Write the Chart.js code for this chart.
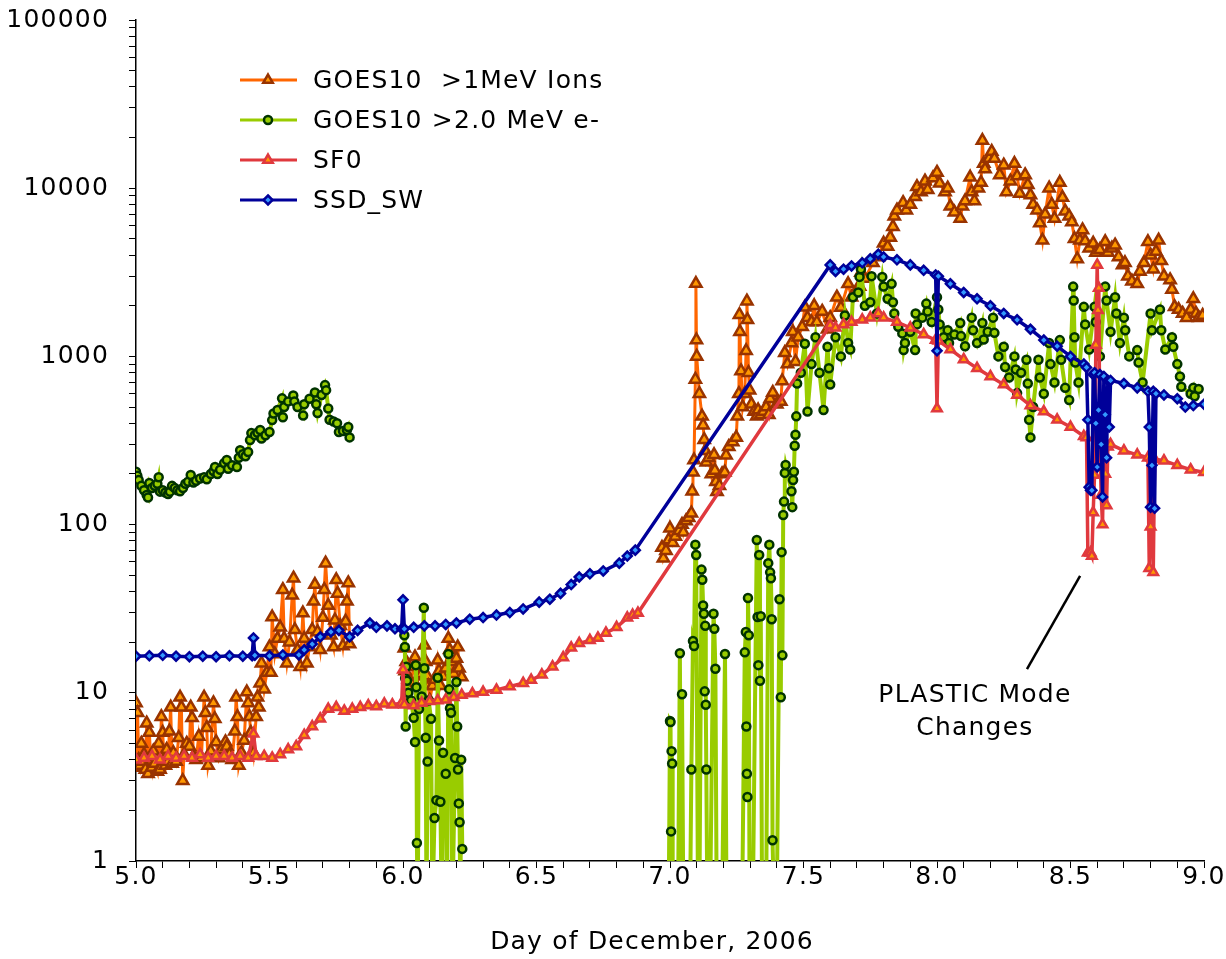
<!DOCTYPE html>
<html>
<head>
<meta charset="utf-8">
<script src="https://cdn.jsdelivr.net/npm/chart.js@4.4.1/dist/chart.umd.min.js"></script>
<style>
html,body{margin:0;padding:0;background:#fff;}
#wrap{width:1226px;height:959px;}
</style>
</head>
<body>
<div id="wrap"><canvas id="c" width="1226" height="959"></canvas></div>
<script>
// ---------- DATA (day of December 2006, value) ----------
const seriesNames = ['GOES10  >1MeV Ions', 'GOES10 >2.0 MeV e-', 'SF0', 'SSD_SW'];

const ionsA = [[5.000,8.7],[5.003,3.6],[5.006,7.6],[5.010,4.0],[5.015,3.7],[5.020,5.0],[5.025,3.9],[5.030,4.3],[5.035,3.5],[5.040,6.6],[5.045,3.3],[5.050,5.8],[5.055,4.1],[5.060,3.6],[5.065,4.5],[5.070,3.8],[5.080,3.4],[5.085,5.0],[5.090,3.5],[5.095,7.2],[5.100,5.8],[5.105,4.0],[5.110,3.7],[5.115,4.6],[5.120,3.9],[5.125,5.9],[5.130,8.2],[5.135,3.8],[5.140,4.4],[5.150,3.9],[5.160,5.4],[5.165,9.4],[5.170,8.2],[5.175,3.0],[5.180,4.3],[5.190,5.0],[5.200,4.8],[5.205,8.2],[5.210,7.1],[5.215,4.2],[5.225,4.0],[5.235,5.5],[5.245,4.1],[5.255,9.4],[5.260,7.6],[5.265,6.2],[5.270,3.7],[5.280,4.5],[5.290,8.7],[5.295,7.0],[5.300,5.1],[5.310,4.1],[5.320,4.6],[5.335,5.1],[5.340,4.8],[5.350,4.3],[5.360,4.0],[5.370,5.9],[5.375,9.4],[5.380,7.2],[5.385,3.7],[5.395,4.4],[5.405,5.2],[5.415,10.1],[5.420,8.7],[5.425,7.2],[5.430,5.8],[5.440,4.4],[5.450,7.2],[5.455,9.4],[5.460,8.2],[5.465,11.4],[5.470,15],[5.480,10.5],[5.490,13.2],[5.500,18.7],[5.505,13.2],[5.510,28.2],[5.520,17],[5.530,21],[5.540,24.5],[5.550,41],[5.555,21],[5.565,15],[5.575,20],[5.585,38],[5.590,48],[5.595,23.7],[5.605,18],[5.615,14.3],[5.625,29.8],[5.630,21],[5.640,15],[5.650,18.7],[5.660,23.7],[5.665,35],[5.670,44],[5.680,23],[5.690,18],[5.700,28],[5.705,41],[5.710,59],[5.720,33],[5.730,22],[5.740,18.7],[5.745,27],[5.750,47],[5.755,39],[5.765,25],[5.775,19],[5.785,26.6],[5.790,35],[5.795,45],[5.800,19.5]];
const ionsB = [[6.005,18.4],[6.008,13.5],[6.012,15.3],[6.020,12],[6.030,11.5],[6.040,14.3],[6.045,16.3],[6.050,11],[6.060,12.6],[6.070,13],[6.080,19.2],[6.085,15.3],[6.090,12.6],[6.095,11],[6.100,9.0],[6.110,11],[6.120,12],[6.130,15.6],[6.135,13.5],[6.140,11],[6.150,12.5],[6.160,14],[6.170,21],[6.175,18],[6.180,15.3],[6.190,13],[6.200,16],[6.205,18.7],[6.210,14],[6.220,12.4]];
const ionsC = [[6.970,73],[6.975,63],[6.985,70],[6.995,81],[7.000,95],[7.010,78],[7.020,85],[7.035,92],[7.045,100],[7.050,90],[7.060,105],[7.070,110],[7.080,117],[7.083,158],[7.086,205],[7.090,242],[7.095,730],[7.097,2710],[7.099,1250],[7.100,1000],[7.110,600],[7.120,440],[7.124,390],[7.128,320],[7.132,275],[7.136,235],[7.145,250],[7.155,200],[7.165,260],[7.168,210],[7.172,180],[7.176,157],[7.185,170],[7.195,200],[7.205,205],[7.210,258],[7.220,290],[7.235,310],[7.248,330],[7.252,440],[7.258,600],[7.260,1770],[7.262,1400],[7.266,820],[7.272,500],[7.280,600],[7.285,1080],[7.288,2130],[7.290,1650],[7.294,800],[7.298,630],[7.305,520],[7.315,470],[7.325,440],[7.330,480],[7.340,450],[7.350,470],[7.360,500],[7.370,450],[7.375,560],[7.385,610],[7.400,520],[7.415,540],[7.420,715],[7.430,1050],[7.440,900],[7.455,1200],[7.460,1400],[7.470,930],[7.480,1300],[7.495,1500],[7.505,1960],[7.515,1700],[7.530,1600],[7.540,2000],[7.550,1600],[7.570,1850],[7.590,1450],[7.600,1700],[7.625,2250],[7.640,1950],[7.667,2700],[7.680,2250],[7.700,2500],[7.710,2600],[7.715,3150],[7.730,2900],[7.760,3600],[7.780,3900],[7.800,4700],[7.815,4500],[7.825,5100],[7.835,5900],[7.840,6800],[7.850,7400],[7.873,8200],[7.885,7400],[7.900,8000],[7.918,8900],[7.925,10200],[7.940,9500],[7.955,11000],[7.965,9800],[7.985,11500],[8.000,12400],[8.010,10700],[8.030,9500],[8.040,10000],[8.050,7800],[8.065,7200],[8.087,6600],[8.095,7800],[8.105,8400],[8.124,11600],[8.130,9500],[8.140,8400],[8.155,10000],[8.165,10800],[8.170,19200],[8.175,14000],[8.180,13000],[8.195,15000],[8.205,16500],[8.215,15000],[8.235,12000],[8.250,13700],[8.260,9500],[8.275,11000],[8.290,14000],[8.300,11800],[8.310,9300],[8.330,12000],[8.340,10500],[8.350,9100],[8.360,8000],[8.375,7400],[8.385,6200],[8.395,4900],[8.405,7000],[8.420,10000],[8.430,8000],[8.440,6600],[8.460,10800],[8.470,8800],[8.480,7300],[8.495,6800],[8.505,6300],[8.515,5000],[8.525,3800],[8.535,4900],[8.545,5650],[8.555,4850],[8.570,4400],[8.585,4700],[8.595,4150],[8.610,4300],[8.630,4800],[8.640,4150],[8.655,4400],[8.667,4580],[8.680,3900],[8.695,3500],[8.704,3600],[8.715,3000],[8.730,2800],[8.750,2700],[8.760,3200],[8.775,3600],[8.790,4800],[8.800,4000],[8.810,3300],[8.820,4200],[8.830,4900],[8.840,3700],[8.850,3000],[8.873,2850],[8.880,2500],[8.890,1970],[8.905,1900],[8.920,1800],[8.935,1700],[8.950,1900],[8.960,2200],[8.970,1800],[8.980,1700],[8.995,1750]];

const elecA = [[5.000,206],[5.005,195],[5.010,184],[5.020,170],[5.030,160],[5.040,150],[5.045,145],[5.050,177],[5.060,165],[5.070,170],[5.080,175],[5.085,191],[5.090,157],[5.100,160],[5.110,155],[5.120,152],[5.127,157],[5.135,170],[5.145,165],[5.155,160],[5.165,158],[5.176,165],[5.185,175],[5.195,180],[5.205,197],[5.215,178],[5.225,182],[5.240,188],[5.255,191],[5.265,186],[5.280,200],[5.290,208],[5.296,220],[5.305,200],[5.315,212],[5.330,232],[5.340,242],[5.345,215],[5.360,225],[5.378,220],[5.385,250],[5.390,277],[5.400,262],[5.410,255],[5.420,270],[5.427,318],[5.432,350],[5.445,340],[5.455,352],[5.465,365],[5.470,325],[5.485,340],[5.500,355],[5.510,418],[5.515,458],[5.530,480],[5.547,563],[5.550,435],[5.555,500],[5.570,540],[5.589,585],[5.593,540],[5.605,500],[5.626,445],[5.630,520],[5.650,560],[5.670,610],[5.675,520],[5.680,460],[5.695,590],[5.708,675],[5.712,630],[5.720,490],[5.725,420],[5.740,410],[5.753,400],[5.760,355],[5.775,360],[5.790,365],[5.795,380],[5.800,330]];
const elecB = [[6.005,22],[6.007,18.7],[6.008,12.2],[6.010,6.3],[6.012,14.3],[6.015,11.8],[6.020,10],[6.030,9],[6.040,7.1],[6.045,5.1],[6.048,14.6],[6.050,10.8],[6.052,1.28],[6.055,0.5],[6.060,8],[6.070,9.5],[6.078,32],[6.080,14],[6.085,5.4],[6.088,0.5],[6.092,3.9],[6.096,9],[6.105,7],[6.110,0.5],[6.118,1.8],[6.125,2.3],[6.130,12.3],[6.135,5.2],[6.140,2.25],[6.145,0.5],[6.150,4.4],[6.160,3.3],[6.165,0.5],[6.170,17],[6.173,10.5],[6.176,8.1],[6.180,7.6],[6.185,0.5],[6.195,4.1],[6.200,11.6],[6.203,6.3],[6.206,3.5],[6.209,2.2],[6.212,1.7],[6.215,0.5],[6.218,4],[6.222,1.18]];
const elecC = [[6.995,0.5],[7.000,6.8],[7.002,6.7],[7.004,1.5],[7.006,4.5],[7.008,3.8],[7.010,0.5],[7.020,0.5],[7.030,0.5],[7.037,17.2],[7.042,0.5],[7.045,9.8],[7.050,0.5],[7.075,0.5],[7.080,3.5],[7.086,20.3],[7.090,19],[7.095,76],[7.098,66],[7.105,0.5],[7.110,0.5],[7.118,54],[7.121,47],[7.124,33],[7.127,29.5],[7.130,10.2],[7.132,25],[7.134,8.5],[7.136,3.5],[7.140,0.5],[7.150,0.5],[7.163,29.5],[7.166,24],[7.170,13.9],[7.175,0.5],[7.195,0.5],[7.206,17],[7.212,0.5],[7.270,0.5],[7.280,17.4],[7.284,23],[7.286,6.3],[7.288,3.3],[7.290,2.4],[7.292,36.6],[7.295,22],[7.298,0.5],[7.310,0.5],[7.325,81],[7.328,28.2],[7.331,14.6],[7.334,66],[7.337,11.8],[7.340,28.5],[7.345,0.5],[7.360,0.5],[7.368,59],[7.372,76],[7.375,52],[7.378,48],[7.381,27.4],[7.384,1.33],[7.390,0.5],[7.400,0.5],[7.410,36],[7.415,9.4],[7.418,68.6],[7.421,16.7],[7.424,114],[7.427,137],[7.430,203],[7.433,226],[7.455,158],[7.458,127],[7.461,184],[7.464,206],[7.467,294],[7.470,342],[7.473,440],[7.476,690],[7.490,800],[7.505,1190],[7.515,470],[7.530,900],[7.545,1300],[7.560,800],[7.575,480],[7.590,1140],[7.595,850],[7.600,680],[7.620,1300],[7.640,1000],[7.655,1750],[7.667,1200],[7.675,1100],[7.685,2250],[7.705,2400],[7.710,2970],[7.715,3300],[7.730,2000],[7.750,2100],[7.755,3000],[7.775,1800],[7.795,2970],[7.800,2600],[7.815,2200],[7.830,2700],[7.835,2100],[7.840,1800],[7.855,1500],[7.870,1370],[7.875,1090],[7.880,1200],[7.900,1400],[7.918,1090],[7.920,1800],[7.925,1550],[7.945,1700],[7.960,2060],[7.965,1850],[7.980,1600],[8.000,2250],[8.005,1900],[8.010,1550],[8.025,1300],[8.040,1430],[8.045,1200],[8.065,1350],[8.087,1580],[8.090,1320],[8.105,1150],[8.130,1700],[8.135,1430],[8.150,1200],[8.170,1580],[8.175,1260],[8.190,1400],[8.210,1700],[8.215,1380],[8.230,1000],[8.250,1140],[8.255,865],[8.270,750],[8.290,1000],[8.295,835],[8.300,605],[8.315,800],[8.335,955],[8.340,690],[8.345,420],[8.350,330],[8.360,500],[8.380,955],[8.385,750],[8.400,600],[8.420,1200],[8.425,900],[8.440,700],[8.460,1250],[8.465,955],[8.480,650],[8.495,550],[8.510,2600],[8.512,2150],[8.515,1300],[8.518,920],[8.530,700],[8.550,1970],[8.555,1550],[8.570,1100],[8.590,1970],[8.595,1600],[8.610,1000],[8.630,2600],[8.635,2150],[8.650,1400],[8.667,2250],[8.672,1800],[8.685,1200],[8.700,1700],[8.705,1430],[8.720,1000],[8.750,1090],[8.755,920],[8.770,700],[8.800,1800],[8.805,1430],[8.835,1900],[8.840,1430],[8.855,1100],[8.880,1300],[8.885,1140],[8.900,900],[8.910,760],[8.915,660],[8.950,600],[8.960,650],[8.965,580],[8.980,640]];

const sf0A = [[5.00,4.0],[5.03,4.1],[5.06,4.2],[5.09,4.0],[5.12,4.2],[5.15,4.1],[5.18,4.2],[5.21,4.1],[5.24,4.3],[5.27,4.1],[5.30,4.2],[5.33,4.2],[5.36,4.1],[5.39,4.2],[5.42,4.1],[5.44,5.7],[5.45,4.2],[5.48,4.2],[5.51,4.1],[5.54,4.3],[5.57,4.6],[5.60,4.8],[5.63,5.6],[5.66,6.3],[5.69,7.0],[5.72,8.0],[5.75,8.2],[5.78,7.8],[5.81,8.0],[5.84,8.2],[5.87,8.4],[5.90,8.3],[5.93,8.6],[5.96,8.5],[5.995,8.7],[6.00,13.7],[6.005,8.5],[6.04,8.4],[6.07,8.7],[6.10,8.9],[6.13,9.0],[6.16,9.1],[6.19,9.4],[6.22,9.7],[6.26,9.9],[6.30,10.1],[6.35,10.4],[6.40,10.9],[6.45,11.4],[6.48,11.9],[6.52,12.8],[6.56,14.3],[6.60,16.2],[6.63,18.5],[6.66,19.7],[6.70,20.5],[6.73,21.2],[6.76,22.7],[6.80,24.5],[6.84,27.9],[6.86,29],[6.88,29.8]];
const sf0B = [[7.60,1530],[7.62,1480],[7.65,1550],[7.68,1600],[7.72,1650],[7.75,1700],[7.78,1800],[7.80,1700],[7.85,1600],[7.90,1480],[7.95,1350],[7.995,1250],[8.00,490],[8.005,1240],[8.05,1100],[8.10,960],[8.15,850],[8.20,760],[8.25,680],[8.30,590],[8.35,510],[8.40,470],[8.45,420],[8.50,380],[8.55,335],[8.56,330],[8.565,68],[8.575,68],[8.58,65],[8.585,118],[8.59,197],[8.595,1170],[8.60,3500],[8.603,1880],[8.606,2550],[8.61,300],[8.615,150],[8.62,100],[8.625,320],[8.63,200],[8.635,130],[8.64,290],[8.65,300],[8.70,275],[8.75,260],[8.79,250],[8.795,55],[8.80,97],[8.805,250],[8.81,52],[8.815,245],[8.85,240],[8.90,225],[8.95,212],[9.00,205]];

const ssdA = [[5.00,16.5],[5.05,16.6],[5.10,16.7],[5.15,16.5],[5.20,16.4],[5.25,16.5],[5.30,16.4],[5.35,16.6],[5.40,16.5],[5.435,16.6],[5.44,21.2],[5.445,16.7],[5.50,16.6],[5.55,16.8],[5.61,16.8],[5.63,18.0],[5.66,19.5],[5.69,21.5],[5.73,23.0],[5.76,23.5],[5.80,21.5],[5.83,23.5],[5.876,26],[5.90,24.5],[5.94,25],[5.97,24],[5.995,24],[6.00,35.7],[6.005,24],[6.04,24.5],[6.08,25],[6.12,25],[6.16,25.5],[6.20,26],[6.25,27.4],[6.30,28],[6.35,29],[6.40,30],[6.45,31.5],[6.51,34.6],[6.55,36],[6.59,39],[6.63,44],[6.66,48.8],[6.70,51],[6.75,53],[6.81,59],[6.84,65],[6.87,70.5]];
const ssdB = [[7.60,3500],[7.62,3200],[7.65,3300],[7.68,3450],[7.72,3600],[7.75,3800],[7.78,4050],[7.80,3900],[7.85,3750],[7.90,3500],[7.95,3250],[7.995,3050],[8.00,1080],[8.005,3000],[8.05,2700],[8.10,2400],[8.15,2200],[8.20,2000],[8.25,1800],[8.30,1650],[8.35,1450],[8.40,1250],[8.45,1150],[8.50,1000],[8.55,900],[8.56,860],[8.565,420],[8.57,167],[8.575,160],[8.58,160],[8.585,780],[8.59,800],[8.595,400],[8.60,220],[8.605,480],[8.61,780],[8.615,300],[8.62,146],[8.625,760],[8.63,450],[8.635,250],[8.64,720],[8.645,380],[8.65,720],[8.70,690],[8.75,650],[8.79,620],[8.795,380],[8.80,127],[8.805,225],[8.81,620],[8.815,125],[8.82,600],[8.85,590],[8.90,560],[8.93,500],[8.96,510],[9.00,520]];

const yTickValues = [1, 10, 100, 1000, 10000, 100000];
const xTickLabels = ['5.0','5.5','6.0','6.5','7.0','7.5','8.0','8.5','9.0'];
const xTitle = 'Day of December, 2006';
const noteLines = ['PLASTIC Mode', 'Changes'];

// ---------- helpers ----------
const toPts = a => a.map(p => ({x: p[0], y: p[1]}));
const gap = t => ({x: t, y: null});
const FONT = '"DejaVu Sans", Verdana, sans-serif';
const FS = 25;
const SPACING = '1.2px';

function drawMarker(c, style, x, y, r, bg, bd, bw) {
  c.beginPath();
  if (style === 'triangle') {
    let a = 0;
    c.moveTo(x + Math.sin(a) * r, y - Math.cos(a) * r);
    a += 2 * Math.PI / 3; c.lineTo(x + Math.sin(a) * r, y - Math.cos(a) * r);
    a += 2 * Math.PI / 3; c.lineTo(x + Math.sin(a) * r, y - Math.cos(a) * r);
    c.closePath();
  } else if (style === 'rectRot') {
    c.moveTo(x, y - r); c.lineTo(x + r, y); c.lineTo(x, y + r); c.lineTo(x - r, y); c.closePath();
  } else {
    c.arc(x, y, r, 0, Math.PI * 2);
  }
  c.fillStyle = bg; c.fill();
  c.lineWidth = bw; c.strokeStyle = bd; c.stroke();
}

const spacingPlugin = {
  id: 'spacing',
  beforeUpdate(chart) { chart.ctx.letterSpacing = SPACING; },
  beforeDraw(chart) {
    const c = chart.ctx;
    c.letterSpacing = SPACING;
    c.save(); c.fillStyle = '#fff'; c.fillRect(0, 0, chart.width, chart.height); c.restore();
  }
};

const legendPlugin = {
  id: 'customLegend',
  afterDraw(chart) {
    const c = chart.ctx;
    c.save();
    c.letterSpacing = SPACING;
    const rowY = [80, 120, 160, 200];
    chart.data.datasets.forEach((ds, i) => {
      const y = rowY[i];
      c.beginPath(); c.moveTo(240, y); c.lineTo(297, y);
      c.strokeStyle = ds.borderColor; c.lineWidth = 3; c.stroke();
      drawMarker(c, ds.pointStyle, 268, y, Math.min(ds.pointRadius, 5.5), ds.pointBackgroundColor, ds.pointBorderColor, ds.pointBorderWidth);
      c.fillStyle = '#000'; c.font = FS + 'px ' + FONT; c.textBaseline = 'middle'; c.textAlign = 'left';
      c.fillText(ds.label, 313, y + 1);
    });
    const xs = chart.scales.x, ys = chart.scales.y;
    // axis title
    c.textAlign = 'center'; c.textBaseline = 'middle';
    c.fillText(xTitle, 652, 942);
    // annotation
    c.beginPath();
    c.moveTo(xs.getPixelForValue(8.337), ys.getPixelForValue(13.85));
    c.lineTo(xs.getPixelForValue(8.536), ys.getPixelForValue(49.5));
    c.strokeStyle = '#000'; c.lineWidth = 2.5; c.stroke();
    const tx = xs.getPixelForValue(8.142);
    c.fillText(noteLines[0], tx, ys.getPixelForValue(9.7));
    c.fillText(noteLines[1], tx, ys.getPixelForValue(6.1));
    c.restore();
  }
};

const datasets = [
  {
    label: seriesNames[0],
    data: toPts(ionsA).concat([gap(5.9)], toPts(ionsB), [gap(6.6)], toPts(ionsC)),
    borderColor: '#FF6600', borderWidth: 3,
    pointStyle: 'triangle', pointRadius: 6.5, pointBorderWidth: 2.5,
    pointBackgroundColor: '#FF9900', pointBorderColor: '#993300',
    spanGaps: false, order: 4
  },
  {
    label: seriesNames[1],
    data: toPts(elecA).concat([gap(5.9)], toPts(elecB), [gap(6.6)], toPts(elecC)),
    borderColor: '#99CC00', borderWidth: 4,
    pointStyle: 'circle', pointRadius: 4, pointBorderWidth: 2.5,
    pointBackgroundColor: '#99CC00', pointBorderColor: '#003300',
    spanGaps: false, order: 3
  },
  {
    label: seriesNames[2],
    data: toPts(sf0A).concat(toPts(sf0B)),
    borderColor: '#E0393E', borderWidth: 3.5,
    pointStyle: 'triangle', pointRadius: 5.5, pointBorderWidth: 2.5,
    pointBackgroundColor: '#FF9900', pointBorderColor: '#E0393E',
    order: 2
  },
  {
    label: seriesNames[3],
    data: toPts(ssdA).concat(toPts(ssdB)),
    borderColor: '#000099', borderWidth: 3.5,
    pointStyle: 'rectRot', pointRadius: 4.5, pointBorderWidth: 2.5,
    pointBackgroundColor: '#3399FF', pointBorderColor: '#000099',
    order: 1
  }
];

const xTickValues = [];
for (let i = 0; i <= 40; i++) xTickValues.push(Math.round((5 + i * 0.1) * 10) / 10);
const yAllTicks = [];
yTickValues.forEach((d, k) => {
  if (k === yTickValues.length - 1) { yAllTicks.push(d); return; }
  for (let m = 1; m <= 9; m++) yAllTicks.push(d * m);
});

new Chart(document.getElementById('c'), {
  type: 'line',
  data: { datasets },
  options: {
    responsive: false,
    animation: false,
    devicePixelRatio: 1,
    layout: { padding: { left: 0, right: 22, top: 20, bottom: 0 } },
    plugins: { legend: { display: false }, tooltip: { enabled: false } },
    elements: { line: { tension: 0 } },
    scales: {
      x: {
        type: 'linear', min: 5, max: 9,
        afterBuildTicks: s => { s.ticks = xTickValues.map(v => ({ value: v })); },
        afterFit: s => { s.height = 98; s.paddingLeft = 0; s.paddingRight = 0; },
        ticks: {
          autoSkip: false, maxRotation: 0, color: '#000', padding: -6,
          font: { family: FONT, size: FS },
          callback: v => { const t = Number(v).toFixed(1); return xTickLabels.includes(t) ? t : ''; }
        },
        grid: { display: true, drawOnChartArea: false, drawTicks: true, tickLength: 7, color: '#000', tickColor: '#000' },
        border: { display: true, color: '#000', width: 1.5 },
        title: { display: false }
      },
      y: {
        type: 'logarithmic', min: 1, max: 100000,
        afterBuildTicks: s => { s.ticks = yAllTicks.map(v => ({ value: v })); },
        afterFit: s => { s.width = 136; s.paddingTop = 0; s.paddingBottom = 0; },
        ticks: {
          autoSkip: false, color: '#000', padding: 20,
          font: { family: FONT, size: FS },
          callback: v => (yTickValues.includes(v) ? String(v) : '')
        },
        grid: { display: true, drawOnChartArea: false, drawTicks: true, tickLength: 7, color: '#000', tickColor: '#000' },
        border: { display: true, color: '#000', width: 1.5 }
      }
    }
  },
  plugins: [spacingPlugin, legendPlugin]
});
</script>
</body>
</html>
